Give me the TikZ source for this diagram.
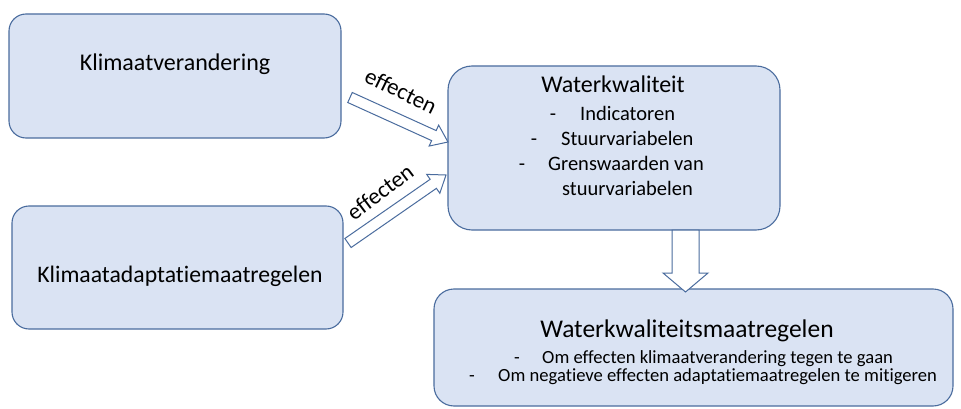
\documentclass[tikz,border=0pt]{standalone}
\usepackage{fontspec}
\setmainfont{Carlito}[Ligatures=NoCommon]
\usetikzlibrary{calc}
\definecolor{boxfill}{HTML}{DAE3F3}
\definecolor{boxline}{HTML}{4A6C9E}
\newcommand\blockarrow[5]{%
  \coordinate (hb) at ($(#2)!#5!(#1)$);
  \draw[barrow] ($(#1)!#3!90:(#2)$) -- ($(hb)!#3!90:(#2)$) -- ($(hb)!#4!90:(#2)$) -- (#2)
     -- ($(hb)!#4!-90:(#2)$) -- ($(hb)!#3!-90:(#2)$) -- ($(#1)!#3!-90:(#2)$) -- cycle;
}
\begin{document}
\begin{tikzpicture}[x=1pt,y=-1pt,
  box/.style={draw=boxline, fill=boxfill, line width=1.1pt, rounded corners=#1, inner sep=0pt},
  barrow/.style={draw=boxline, fill=white, line width=1pt, line join=miter},
  txt/.style={inner sep=0pt, text height=0.7em, text depth=0.2em, yshift=-5pt, font=\fontsize{#1}{#1}\selectfont},
  lbl/.style={inner sep=0pt, font=\fontsize{23}{23}\selectfont}]
\fill[white] (0,0) rectangle (961,409);
\useasboundingbox (0,0) rectangle (961,409);

% boxes
\node[box=17pt, minimum width=332pt, minimum height=124pt] (kv) at (175,76) {};
\node[box=17pt, minimum width=331pt, minimum height=123pt] (ka) at (177.5,267.5) {};
\node[box=24pt, minimum width=332pt, minimum height=164pt] (wk) at (614,148) {};
\node[box=20pt, minimum width=519pt, minimum height=117pt] (wm) at (693.5,347.5) {};

% texts
\node[txt=24] (kvt) at (175,63) {Klimaatverandering};
\node[txt=23.7] (kat) at (180,275) {Klimaatadaptatiemaatregelen};

\node[txt=24] (wkt) at (613,85) {Waterkwaliteit};
\node[txt=20.5] (d1) at (553,113) {-};
\node[txt=20.5, anchor=west] (i1) at (580,113) {Indicatoren};
\node[txt=20.5] (d2) at (534,138) {-};
\node[txt=20.5, anchor=west] (i2) at (561,138) {Stuurvariabelen};
\node[txt=20.5] (d3) at (522,163) {-};
\node[txt=20.5, anchor=west] (i3) at (548,163) {Grenswaarden van};
\node[txt=20.5, anchor=west] (i4) at (562,188) {stuurvariabelen};

\node[txt=25.5] (wmt) at (687,330) {Waterkwaliteitsmaatregelen};
\node[txt=18.6] (e1) at (517,356) {-};
\node[txt=18.6, anchor=west] (m1) at (542,356) {Om effecten klimaatverandering tegen te gaan};
\node[txt=18.6] (e2) at (472,374) {-};
\node[txt=18.6, anchor=west] (m2) at (498,374) {Om negatieve effecten adaptatiemaatregelen te mitigeren};

% arrows
\coordinate (a1s) at (350,97.5);
\coordinate (a1e) at (448,142);
\coordinate (a2s) at (348,243);
\coordinate (a2e) at (446,175);
\coordinate (a3s) at (685.5,230);
\coordinate (a3e) at (685.5,292);
\blockarrow{a1s}{a1e}{5.5pt}{11.5pt}{15.5pt}
\blockarrow{a2s}{a2e}{5.5pt}{11.5pt}{15.5pt}
\blockarrow{a3s}{a3e}{13.5pt}{22.5pt}{19pt}

\node[lbl, rotate=-26] (l1) at (401,91) {effecten};
\node[lbl, rotate=37] (l2) at (380,192) {effecten};
\end{tikzpicture}
\end{document}
